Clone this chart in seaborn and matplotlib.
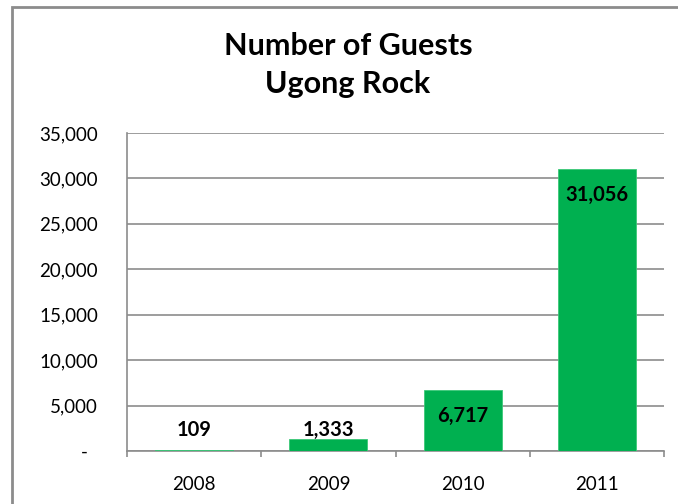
import matplotlib
matplotlib.use("Agg")
import matplotlib.pyplot as plt
from matplotlib.patches import Rectangle
from matplotlib.ticker import FuncFormatter, FixedLocator
import seaborn as sns
import pandas as pd

years = ["2008", "2009", "2010", "2011"]
guests = [109, 1333, 6717, 31056]
y_ticks = [0, 5000, 10000, 15000, 20000, 25000, 30000, 35000]
title_lines = ["Number of Guests", "Ugong Rock"]

sns.set_theme(style="white")
plt.rcParams["font.family"] = ["Lato", "DejaVu Sans"]

GRAY = "#8c8c8c"
GREEN = "#00B050"

fig = plt.figure(figsize=(6.78, 5.04), dpi=100)
ax = fig.add_axes([127/678, 1-451/504, (664-127)/678, (451-133)/504])

df = pd.DataFrame({"year": years, "guests": guests})
sns.barplot(data=df, x="year", y="guests", color=GREEN, saturation=1,
            width=0.58, ax=ax, edgecolor="#3cc878", linewidth=0.6, zorder=3)

ax.set_ylim(y_ticks[0], y_ticks[-1])
ax.set_xlim(-0.5, len(years) - 0.5)
ax.yaxis.set_major_locator(FixedLocator(y_ticks))
ax.yaxis.set_major_formatter(FuncFormatter(lambda v, p: "-  " if v == 0 else f"{int(v):,}"))
ax.grid(axis="y", color=GRAY, linewidth=1.2, zorder=0)
ax.set_axisbelow(True)
ax.set_xlabel("")
ax.set_ylabel("")

for s in ["top", "right"]:
    ax.spines[s].set_visible(False)
for s in ["left", "bottom"]:
    ax.spines[s].set_color(GRAY)
    ax.spines[s].set_linewidth(1.2)

ax.tick_params(axis="y", length=0, pad=21, labelsize=13.5, labelcolor="black")
ax.tick_params(axis="x", which="major", direction="in", length=3.5, width=1,
               color=GRAY, pad=18, labelsize=13.5, labelcolor="black")
ax.set_xticks([i - 0.5 for i in range(len(years) + 1)], minor=True)
ax.tick_params(axis="x", which="minor", direction="out", length=4.5, width=1.2,
               color=GRAY, bottom=True)

for i, v in enumerate(guests):
    if v > 5000:
        ax.annotate(f"{v:,}", xy=(i, v), xytext=(0, -19), textcoords="offset points",
                    ha="center", va="center", fontsize=14.5, fontweight="bold", color="black", zorder=5)
    else:
        ax.annotate(f"{v:,}", xy=(i, max(v, 1333)), xytext=(0, 6.5), textcoords="offset points",
                    ha="center", va="center", fontsize=14.5, fontweight="bold", color="black", zorder=5)

fig.text(348/678, 1-46/504, title_lines[0], ha="center", va="center",
         fontsize=22, fontweight="bold", color="black")
fig.text(348/678, 1-84/504, title_lines[1], ha="center", va="center",
         fontsize=22, fontweight="bold", color="black")

fig.patches.append(Rectangle((12/678, -0.1), 1.2, 1.1 - 7/504, transform=fig.transFigure,
                             fill=False, edgecolor=GRAY, linewidth=2, zorder=10))

fig.savefig("out.png", dpi=100)
